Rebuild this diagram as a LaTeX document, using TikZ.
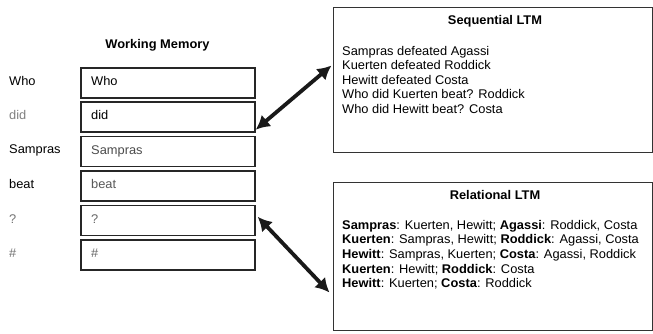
\documentclass[tikz,border=0pt]{standalone}
\usepackage{fontspec}
\setmainfont[FakeStretch=1.02]{Liberation Sans}
\usetikzlibrary{arrows.meta}
\begin{document}
\begin{tikzpicture}[x=1pt,y=-1pt,
  txt/.style={font=\fontsize{12.6}{14.5}\selectfont, inner sep=0pt, anchor=base west},
  ttl/.style={font=\fontsize{12.6}{14.5}\selectfont\bfseries, inner sep=0pt, anchor=base},
  wmbox/.style={draw=black!85, line width=1.4pt, minimum width=174pt, minimum height=30pt, inner sep=0pt},
  ltmbox/.style={draw=black!80, line width=1pt, inner sep=0pt},
  bigarrow/.style={line width=3.8pt, black!90, {Latex[length=14pt,width=15pt]}-{Latex[length=14pt,width=15pt]}}
]
\useasboundingbox (0,0) rectangle (653,333);
\fill[white] (0,0) rectangle (653,333);

% Working memory
\node[ttl] (wmtitle) at (157.5,48.5) {Working Memory};
\node[wmbox] (wm1) at (168,83) {};
\node[wmbox] (wm2) at (168,117) {};
\node[wmbox] (wm3) at (168,151.5) {};
\node[wmbox] (wm4) at (168,186) {};
\node[wmbox] (wm5) at (168,220.5) {};
\node[wmbox] (wm6) at (168,255) {};

% word slots inside the buffer
\node[txt] (in1) at (91,85.5) {Who};
\node[txt] (in2) at (91,119.5) {did};
\node[txt, text=black!70] (in3) at (91,154) {Sampras};
\node[txt, text=black!65] (in4) at (91,188.5) {beat};
\node[txt, text=black!60] (in5) at (91,223) {?};
\node[txt, text=black!60] (in6) at (91,257.5) {\#};

% incoming words
\node[txt] (w1) at (9,85) {Who};
\node[txt, text=black!50] (w2) at (9,119) {did};
\node[txt] (w3) at (9,153.5) {Sampras};
\node[txt] (w4) at (9,188) {beat};
\node[txt, text=black!55] (w5) at (9,223) {?};
\node[txt, text=black!55] (w6) at (9,257) {\#};

% Sequential LTM
\node[ltmbox, minimum width=319pt, minimum height=145pt] (seq) at (492.5,79.5) {};
\node[ttl] (seqtitle) at (495,24.5) {Sequential LTM};
\node[txt] (s1) at (342,55) {Sampras defeated Agassi};
\node[txt] (s2) at (342,69.5) {Kuerten defeated Roddick};
\node[txt] (s3) at (342,84) {Hewitt defeated Costa};
\node[txt] (s4) at (342,98.5) {Who did Kuerten beat? Roddick};
\node[txt] (s5) at (342,113) {Who did Hewitt beat? Costa};

% Relational LTM
\node[ltmbox, minimum width=319pt, minimum height=148pt] (rel) at (492.5,256) {};
\node[ttl] (reltitle) at (495,199.5) {Relational LTM};
\node[txt] (r1) at (342,229) {\textbf{Sampras}: Kuerten, Hewitt; \textbf{Agassi}: Roddick, Costa};
\node[txt] (r2) at (342,243.5) {\textbf{Kuerten}: Sampras, Hewitt; \textbf{Roddick}: Agassi, Costa};
\node[txt] (r3) at (342,258) {\textbf{Hewitt}: Sampras, Kuerten; \textbf{Costa}: Agassi, Roddick};
\node[txt] (r4) at (342,273) {\textbf{Kuerten}: Hewitt; \textbf{Roddick}: Costa};
\node[txt] (r5) at (342,287.5) {\textbf{Hewitt}: Kuerten; \textbf{Costa}: Roddick};

% links between working memory and the two stores
\coordinate (a1) at ([yshift=3pt]wm2.south east);
\coordinate (b1) at ([xshift=-1pt,yshift=-59pt]seq.north west);
\coordinate (a2) at ([xshift=2pt,yshift=-12pt]wm5.north east);
\coordinate (b2) at ([xshift=-3pt,yshift=-111pt]rel.north west);
\draw[bigarrow] (a1) -- (b1);
\draw[bigarrow] (a2) -- (b2);
\end{tikzpicture}
\end{document}
